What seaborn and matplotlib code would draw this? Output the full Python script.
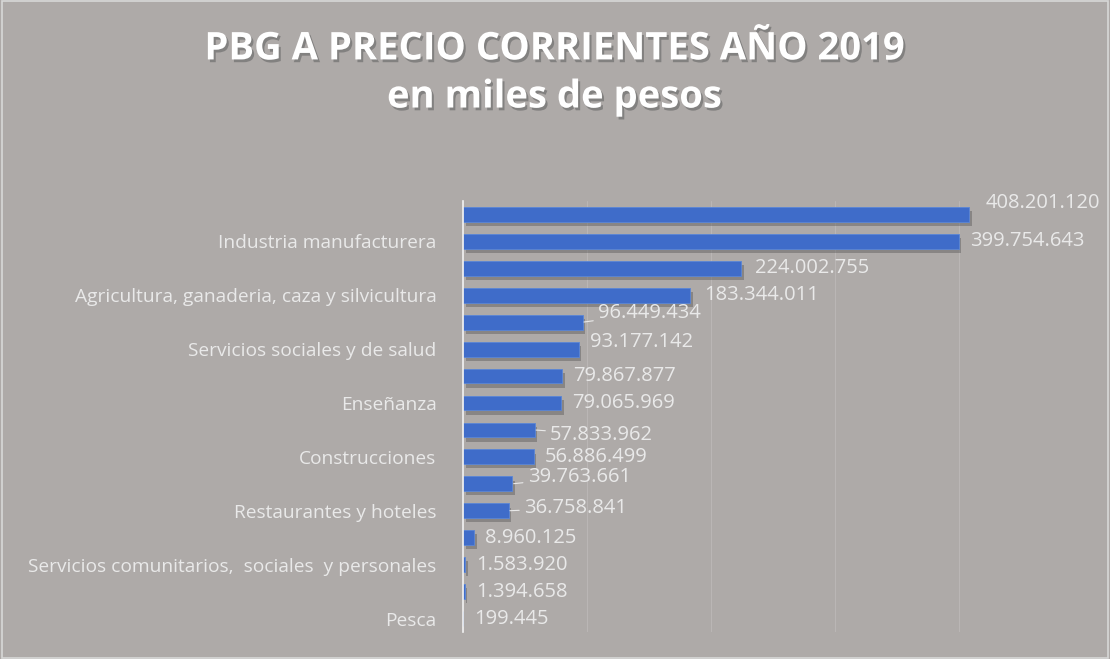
import matplotlib
matplotlib.use("Agg")
import matplotlib.pyplot as plt
import matplotlib.patheffects as pe
import seaborn as sns
import pandas as pd

# ---- data ----
categories = [
    "c01", "Industria manufacturera", "c03",
    "Agricultura, ganaderia, caza y silvicultura", "c05",
    "Servicios sociales y de salud", "c07", "Enseñanza", "c09",
    "Construcciones", "c11", "Restaurantes y hoteles", "c13",
    "Servicios comunitarios,  sociales  y personales", "c15", "Pesca",
]
tick_labels = [
    "", "Industria manufacturera", "",
    "Agricultura, ganaderia, caza y silvicultura", "",
    "Servicios sociales y de salud", "", "Enseñanza", "",
    "Construcciones", "", "Restaurantes y hoteles", "",
    "Servicios comunitarios,  sociales  y personales", "", "Pesca",
]
values = [408201120, 399754643, 224002755, 183344011, 96449434, 93177142,
          79867877, 79065969, 57833962, 56886499, 39763661, 36758841,
          8960125, 1583920, 1394658, 199445]
title_lines = ["PBG A PRECIO CORRIENTES AÑO 2019", "en miles de pesos"]

# label offsets (points) to mimic the placement in the reference
label_dx = [12, 8, 10, 10, 11, 8, 8, 8, 11, 8, 11, 11, 8, 8, 8, 8]
label_dy = [8.5, 0, 0, 0, 6.5, 5, 0, 0, -3.5, 0, 5, 2, 0, 0, 0, 0]
leader = [False, False, False, False, True, False, False, False, True, False,
          True, True, False, False, False, False]

BG = "#aeaaa8"
TXT = "#e9e9e9"

sns.set_theme(style="white")
plt.rcParams["font.family"] = ["Open Sans", "DejaVu Sans"]

fig = plt.figure(figsize=(11.10, 6.59), dpi=100, facecolor=BG)
ax = fig.add_axes([0.4171, 0.041, 0.5586, 0.654])
ax.set_facecolor(BG)

df = pd.DataFrame({"cat": categories, "val": values})
sns.barplot(data=df, y="cat", x="val", order=categories, orient="h",
            color="#3f6cc9", saturation=1, width=0.55, ax=ax)

for p in ax.patches:
    p.set_edgecolor("#5a86d6")
    p.set_linewidth(0.6)
    p.set_path_effects([pe.SimplePatchShadow(offset=(2, -3), shadow_rgbFace="#5a5a5a", alpha=0.45),
                        pe.Normal()])

ax.set_xlim(0, 500_000_000)
ax.set_ylim(15.5, -0.5)
ax.set_xticks(range(0, 500_000_001, 100_000_000))
ax.xaxis.grid(True, color="#bab6b5", linewidth=0.8)
ax.set_axisbelow(True)
ax.tick_params(axis="x", length=0, labelbottom=False)
ax.tick_params(axis="y", length=0, pad=19)
ax.set_yticks(range(len(categories)))
ax.set_yticklabels(tick_labels, color=TXT, fontsize=13.8)
ax.set_xlabel("")
ax.set_ylabel("")
for s in ["top", "right", "bottom"]:
    ax.spines[s].set_visible(False)
ax.spines["left"].set_color("#f2f2f2")
ax.spines["left"].set_linewidth(1.2)

for i, v in enumerate(values):
    txt = f"{v:,}".replace(",", ".")
    kw = {}
    if leader[i]:
        kw["arrowprops"] = dict(arrowstyle="-", color=TXT, lw=0.8, shrinkA=1, shrinkB=1)
    ax.annotate(txt, xy=(v, i), xytext=(label_dx[i], label_dy[i]),
                textcoords="offset points", ha="left", va="center",
                color=TXT, fontsize=14.5, **kw)

title_fx = [pe.SimplePatchShadow(offset=(1.5, -2), shadow_rgbFace="#666666", alpha=0.6),
            pe.Normal()]
fig.text(0.5, 0.925, title_lines[0], ha="center", va="center", color="white",
         fontsize=27.5, fontweight="bold", family=["Open Sans", "DejaVu Sans"],
         path_effects=title_fx)
fig.text(0.5, 0.852, title_lines[1], ha="center", va="center", color="white",
         fontsize=27.5, fontweight="bold", family=["Open Sans", "DejaVu Sans"],
         path_effects=title_fx)

fig.patches.append(plt.Rectangle((0.002, 0.002), 0.996, 0.996, transform=fig.transFigure,
                                 fill=False, edgecolor="#d8d8d8", linewidth=1.2))

fig.savefig("out.png", dpi=100, facecolor=BG)
